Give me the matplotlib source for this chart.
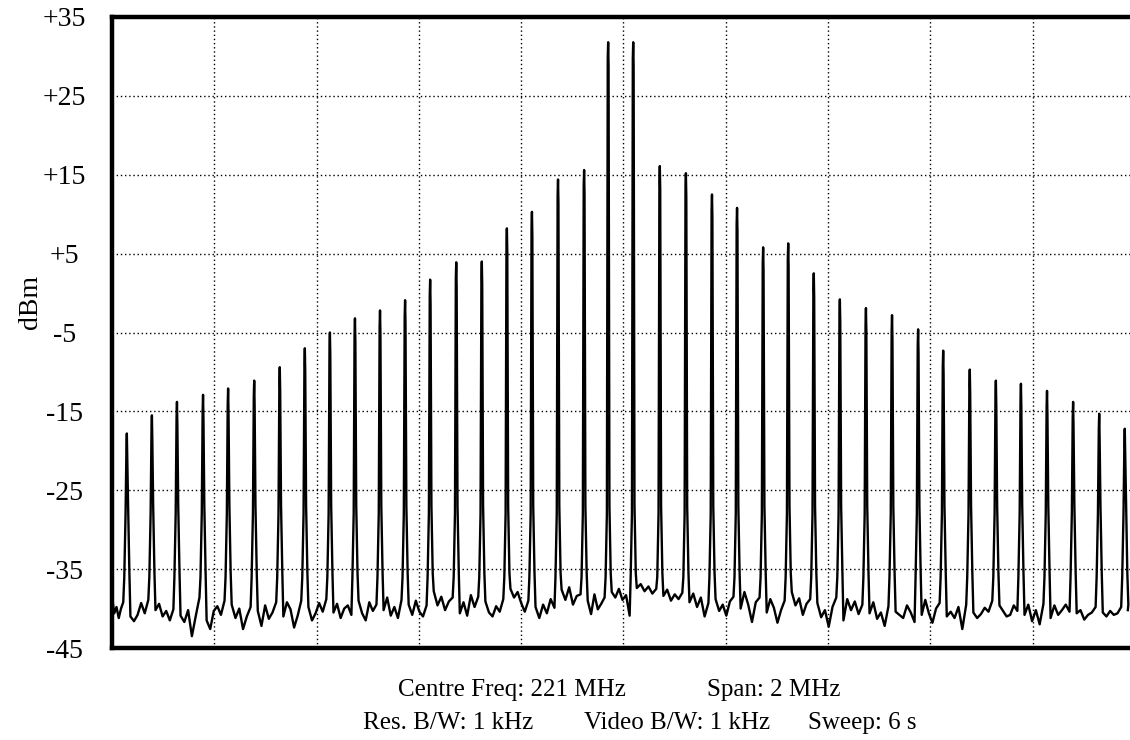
import numpy as np
import matplotlib
matplotlib.use("Agg")
import matplotlib.pyplot as plt

peak_freq = [220.029, 220.078, 220.127, 220.178, 220.227, 220.278, 220.328, 220.377,
             220.426, 220.475, 220.524, 220.573, 220.622, 220.673, 220.723, 220.772,
             220.821, 220.872, 220.923, 220.970, 221.019, 221.071, 221.122, 221.173,
             221.222, 221.273, 221.322, 221.372, 221.423, 221.474, 221.525, 221.576,
             221.625, 221.677, 221.728, 221.777, 221.828, 221.879, 221.930, 221.980]

# Nivel de cada linea (dBm)
peak_dbm = [-17.8, -15.5, -13.8, -12.9, -12.1, -11.1, -9.4, -7.0, -5.0, -3.2,
            -2.2, -0.9, 1.7, 3.9, 4.0, 8.2, 10.3, 14.4, 15.6, 31.8,
            31.8, 16.1, 15.2, 12.5, 10.8, 5.8, 6.3, 2.5, -0.8, -1.9,
            -2.8, -4.6, -7.3, -9.7, -11.1, -11.5, -12.4, -13.8, -15.3, -17.2]

# Piso de ruido entre lineas (dBm), un grupo por hueco
floor_gaps = [
    [-38.5, -40.6, -39.8, -41.2, -40.0, -39.2],
    [-41.0, -41.6, -40.8, -39.3, -40.6, -38.9],
    [-40.2, -39.4, -41.0, -40.3, -41.5, -40.1],
    [-40.9, -41.7, -40.2, -43.5, -41.0, -38.6],
    [-41.5, -42.6, -40.3, -39.7, -40.8, -39.0],
    [-39.5, -41.2, -40.0, -42.6, -41.0, -39.8],
    [-40.3, -42.2, -39.6, -41.3, -40.5, -39.2],
    [-41.0, -39.2, -40.1, -42.4, -40.9, -39.0],
    [-39.8, -41.5, -40.6, -39.3, -40.4, -38.8],
    [-40.5, -39.4, -41.2, -40.0, -39.6, -40.8],
    [-39.0, -40.6, -41.5, -39.2, -40.3, -39.5],
    [-40.2, -38.6, -40.9, -39.8, -41.2, -38.9],
    [-39.5, -40.8, -39.0, -40.4, -41.0, -39.6],
    [-37.8, -39.6, -38.5, -40.2, -39.1, -38.6],
    [-40.6, -39.2, -40.9, -38.3, -39.8, -38.5],
    [-39.1, -40.5, -41.0, -39.7, -40.4, -38.8],
    [-37.5, -38.6, -37.9, -39.3, -40.4, -39.0],
    [-39.8, -41.2, -39.5, -40.6, -38.8, -39.9],
    [-37.6, -38.9, -37.3, -39.5, -38.4, -38.2],
    [-39.0, -40.7, -38.2, -40.1, -39.4, -38.6],
    [-37.9, -38.6, -37.5, -38.9, -38.3, -40.9],
    [-37.4, -36.9, -37.8, -37.2, -38.1, -37.5],
    [-38.4, -37.6, -39.0, -38.2, -38.8, -38.0],
    [-39.2, -38.1, -39.8, -38.6, -41.0, -39.3],
    [-38.8, -40.3, -39.5, -40.9, -39.1, -38.5],
    [-40.0, -37.9, -39.5, -41.7, -39.2, -38.6],
    [-40.5, -38.8, -39.9, -41.8, -40.2, -39.0],
    [-37.9, -39.6, -38.7, -40.8, -39.4, -38.8],
    [-39.3, -41.1, -40.2, -42.3, -39.8, -38.6],
    [-41.5, -38.8, -40.2, -39.1, -40.7, -39.5],
    [-40.6, -39.2, -41.3, -40.5, -42.2, -39.7],
    [-40.4, -40.8, -41.2, -39.6, -40.5, -41.7],
    [-40.8, -38.9, -40.6, -41.8, -40.0, -39.3],
    [-41.0, -40.4, -41.2, -39.8, -42.6, -39.5],
    [-40.5, -41.2, -40.7, -39.9, -40.4, -39.0],
    [-39.6, -40.3, -41.0, -40.8, -39.6, -40.3],
    [-40.8, -39.5, -41.6, -40.2, -42.0, -39.4],
    [-41.2, -39.6, -40.8, -40.2, -39.5, -40.4],
    [-40.6, -40.2, -41.4, -40.8, -40.5, -39.8],
    [-40.5, -41.0, -40.3, -40.8, -40.6, -39.8],
    [-39.5, -40.2],
]

y_ticks = [35, 25, 15, 5, -5, -15, -25, -35, -45]
y_tick_labels = ["+35", "+25", "+15", "+5", "-5", "-15", "-25", "-35", "-45"]

f_start, f_stop = 220.0, 222.0
trace_end = 221.986

# Construir la traza: ruido en los huecos y un pico estrecho por linea
edges = [f_start] + peak_freq + [trace_end]
xs, ys = [], []
for i, gap in enumerate(floor_gaps):
    a = edges[i] + (0.007 if i > 0 else 0.0)
    b = edges[i + 1] - (0.007 if i < len(peak_freq) else 0.0)
    xs.extend(np.linspace(a, b, len(gap)))
    ys.extend(gap)
    if i < len(peak_freq):
        f, top = peak_freq[i], peak_dbm[i]
        xs.extend([f - 0.005, f - 0.0025, f - 0.0008, f, f + 0.0008, f + 0.0025, f + 0.005])
        ys.extend([-36.0, -28.0, top - 2.0, top, top - 3.0, -27.0, -35.5])

plt.rcParams['font.family'] = ['Liberation Serif', 'DejaVu Serif']

fig = plt.figure(figsize=(11.3, 7.4), dpi=100)
ax = fig.add_axes([112 / 1130, 92 / 740, 1023 / 1130, 631 / 740])

ax.plot(xs, ys, color='black', linewidth=1.7)

ax.set_xlim(f_start, f_stop)
ax.set_ylim(-45, 35)
ax.set_xticks(np.arange(f_start, f_stop + 0.001, 0.2))
ax.set_yticks(y_ticks)
ax.set_yticklabels(y_tick_labels, fontsize=20)
ax.tick_params(axis='x', labelbottom=False, length=0)
ax.tick_params(axis='y', length=0, pad=34)
for lbl in ax.get_yticklabels():
    lbl.set_horizontalalignment('center')
ax.grid(True, color='black', linestyle=(0, (1, 2)), linewidth=1.0)
ax.set_axisbelow(True)
for s in ax.spines.values():
    s.set_linewidth(3.2)

fig.text(30 / 1130, 1 - 302 / 740, "dBm", rotation=90, fontsize=20,
         ha='center', va='center')

# Texto de parametros del analizador
fig.text(512 / 1130, 1 - 690 / 740, "Centre Freq: 221 MHz", fontsize=18,
         ha='center', va='center')
fig.text(774 / 1130, 1 - 690 / 740, "Span: 2 MHz", fontsize=18,
         ha='center', va='center')
fig.text(448 / 1130, 1 - 723 / 740, "Res. B/W: 1 kHz", fontsize=18,
         ha='center', va='center')
fig.text(677 / 1130, 1 - 723 / 740, "Video B/W: 1 kHz", fontsize=18,
         ha='center', va='center')
fig.text(808 / 1130, 1 - 723 / 740, "Sweep: 6 s", fontsize=18,
         ha='left', va='center')

fig.savefig("out.png", dpi=100)
